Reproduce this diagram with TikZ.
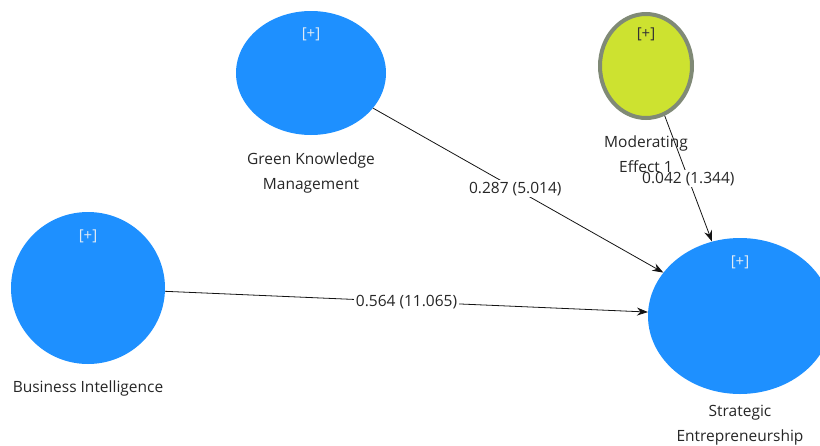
\documentclass[tikz,border=0pt]{standalone}
\usepackage{fontspec}
\setmainfont{Open Sans}
\usetikzlibrary{shapes.geometric,arrows.meta,positioning}
\definecolor{constructblue}{RGB}{30,144,255}
\definecolor{moderatorlime}{RGB}{205,226,48}
\definecolor{moderatorrim}{RGB}{128,138,118}
\definecolor{plusgrey}{RGB}{225,235,245}
\definecolor{pathgrey}{RGB}{20,20,20}

\tikzset{
  construct/.style={ellipse,fill=constructblue,inner sep=0pt},
  moderator/.style={ellipse,fill=moderatorlime,draw=moderatorrim,line width=4pt,inner sep=0pt},
  plusmark/.style={text=plusgrey,font=\fontsize{15}{17}\selectfont,inner sep=0pt},
  namelabel/.style={align=center,text=black!85,font=\fontsize{15.5}{25}\selectfont,inner sep=0pt},
  pathlabel/.style={fill=white,text=black!85,font=\fontsize{15.5}{17}\selectfont,inner sep=1.5pt},
  structpath/.style={draw=pathgrey,line width=0.8pt,-{Stealth[length=11pt,width=8pt]}}
}

\begin{document}
\begin{tikzpicture}[x=1pt,y=-1pt]
    \useasboundingbox (0,0) rectangle (820,445);
    \clip (0,0) rectangle (820,445);

    % Constructs
    \node[construct,minimum width=154pt,minimum height=152pt] (bi) at (88,288) {};
    \node[construct,minimum width=150pt,minimum height=124pt] (gkm) at (311,73) {};
    \node[moderator,minimum width=92pt,minimum height=104pt] (me) at (646,66) {};
    \node[construct,minimum width=184pt,minimum height=156pt] (se) at (740,316) {};

    % Structural paths
    \path[structpath] (bi) -- (se) node[pathlabel,pos=0.5] (bise) {0.564 (11.065)};
    \path[structpath] (gkm) -- (se) node[pathlabel,pos=0.49] (gkmse) {0.287 (5.014)};
    \path[structpath] (me) -- (se) node[pathlabel,pos=0.5] (mese) {0.042 (1.344)};

    % Expand marks
    \node[plusmark,below=18pt of bi.north] (biplus) {[+]};
    \node[plusmark,below=17pt of gkm.north] (gkmplus) {[+]};
    \node[plusmark,below=18pt of se.north] (seplus) {[+]};
    \node[plusmark,text=black!80,below=16pt of me.north] (meplus) {[+]};

    % Construct names
    \node[namelabel,below=16pt of bi.south] (biname) {Business Intelligence};
    \node[namelabel,below=17pt of gkm.south] (gkmname) {Green Knowledge\\Management};
    \node[namelabel,below=16pt of me.south] (mename) {Moderating\\Effect 1};
    \node[namelabel,below=11pt of se.south] (sename) {Strategic\\Entrepreneurship};
\end{tikzpicture}
\end{document}
